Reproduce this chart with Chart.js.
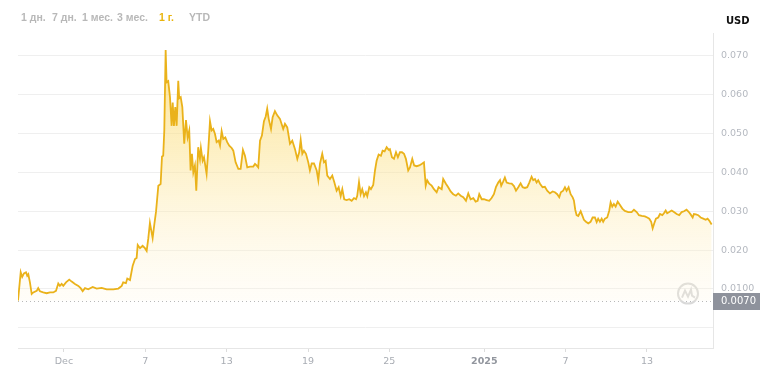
<!DOCTYPE html>
<html>
<head>
<meta charset="utf-8">
<script src="https://cdn.jsdelivr.net/npm/chart.js@4.4.1/dist/chart.umd.min.js"></script>
<style>
  html, body { margin: 0; padding: 0; background: #fff; }
  #wrap { position: relative; width: 775px; height: 380px; }
  #myChart { position: absolute; left: 0; top: 0; }
  .range {
    position: absolute; top: 11px;
    font-family: "Liberation Sans", Arial, sans-serif;
    font-size: 10.5px; font-weight: bold; color: #b8b8b8;
    white-space: nowrap;
  }
  .range.active { color: #e9b40c; }
  #usd {
    position: absolute; left: 726px; top: 15px;
    font-family: "DejaVu Sans", sans-serif; font-size: 10px; font-weight: bold; color: #111;
  }
</style>
</head>
<body>
<div id="wrap">
  <canvas id="myChart" width="775" height="380"></canvas>
  <span class="range" style="left:21px">1 дн.</span>
  <span class="range" style="left:52px">7 дн.</span>
  <span class="range" style="left:82px">1 мес.</span>
  <span class="range" style="left:117px">3 мес.</span>
  <span class="range active" style="left:159px">1 г.</span>
  <span class="range" style="left:189px">YTD</span>
  <span id="usd">USD</span>
</div>
<script>
// days since 1 Dec 2024
const days = [
  -3.39, -3.19, -3.08, -2.95, -2.80, -2.71, -2.63, -2.51, -2.38, -2.26,
  -2.01, -1.90, -1.77, -1.53, -1.28, -1.03, -0.79, -0.59, -0.42, -0.30,
  -0.17, -0.05, 0.15, 0.39, 0.57, 0.81, 1.06, 1.23, 1.38, 1.55,
  1.79, 2.12, 2.41, 2.78, 3.15, 3.64, 4.01, 4.26, 4.37, 4.57,
  4.67, 4.87, 5.07, 5.24, 5.36, 5.44, 5.61, 5.80, 5.97, 6.10,
  6.22, 6.34, 6.54, 6.66, 6.79, 6.96, 7.13, 7.23, 7.32, 7.40,
  7.50, 7.57, 7.69, 7.82, 7.94, 8.02, 8.11, 8.21, 8.31, 8.43,
  8.50, 8.61, 8.73, 8.87, 9.00, 9.12, 9.24, 9.34, 9.44, 9.54,
  9.66, 9.76, 9.90, 10.03, 10.10, 10.23, 10.33, 10.52, 10.64, 10.77,
  10.89, 11.01, 11.14, 11.26, 11.41, 11.51, 11.63, 11.75, 11.90, 12.04,
  12.19, 12.37, 12.49, 12.66, 12.86, 13.03, 13.20, 13.35, 13.52, 13.72,
  13.96, 14.09, 14.21, 14.33, 14.46, 14.60, 14.75, 14.88, 14.99, 15.10,
  15.27, 15.39, 15.56, 15.73, 15.93, 16.17, 16.30, 16.47, 16.67, 16.84,
  17.04, 17.21, 17.35, 17.46, 17.58, 17.70, 17.85, 18.02, 18.14, 18.27,
  18.44, 18.64, 18.76, 18.88, 19.05, 19.18, 19.30, 19.42, 19.62, 19.79,
  19.94, 20.11, 20.26, 20.41, 20.53, 20.67, 20.85, 21.04, 21.22, 21.39,
  21.54, 21.63, 21.76, 21.88, 22.00, 22.13, 22.27, 22.37, 22.52, 22.64,
  22.81, 22.94, 23.06, 23.21, 23.38, 23.50, 23.65, 23.80, 23.95, 24.04,
  24.19, 24.34, 24.49, 24.63, 24.78, 24.93, 25.08, 25.22, 25.39, 25.52,
  25.69, 25.83, 26.01, 26.20, 26.38, 26.55, 26.68, 26.79, 26.94, 27.12,
  27.29, 27.49, 27.63, 27.86, 27.97, 28.17, 28.34, 28.52, 28.71, 28.91,
  29.08, 29.26, 29.45, 29.65, 29.82, 29.99, 30.19, 30.36, 30.51, 30.63,
  30.81, 30.98, 31.17, 31.37, 31.54, 31.71, 31.86, 32.03, 32.16, 32.25,
  32.40, 32.52, 32.65, 32.84, 33.02, 33.19, 33.34, 33.51, 33.68, 33.83,
  34.00, 34.17, 34.32, 34.49, 34.61, 34.74, 34.86, 34.98, 35.11, 35.30,
  35.47, 35.64, 35.84, 36.04, 36.21, 36.38, 36.53, 36.65, 36.82, 36.95,
  37.07, 37.22, 37.37, 37.52, 37.61, 37.71, 37.81, 37.93, 38.11, 38.22,
  38.35, 38.50, 38.67, 38.84, 38.99, 39.16, 39.29, 39.40, 39.53, 39.66,
  39.77, 39.90, 40.07, 40.22, 40.32, 40.44, 40.56, 40.69, 40.84, 41.01,
  41.18, 41.37, 41.62, 41.87, 42.04, 42.24, 42.41, 42.61, 42.85, 43.02,
  43.17, 43.31, 43.42, 43.54, 43.66, 43.83, 43.96, 44.13, 44.25, 44.38,
  44.49, 44.64, 44.82, 44.99, 45.19, 45.38, 45.56, 45.73, 45.92, 46.09,
  46.22, 46.37, 46.46, 46.61, 46.78, 46.96, 47.15, 47.33, 47.47, 47.59, 47.77
];

// price in USD
const prices = [
  0.0070, 0.0143, 0.0131, 0.0140, 0.0143, 0.0134, 0.0138, 0.0117, 0.0087, 0.0091,
  0.0095, 0.0102, 0.0094, 0.0091, 0.0089, 0.0091, 0.0091, 0.0095, 0.0114, 0.0108,
  0.0113, 0.0108, 0.0117, 0.0124, 0.0119, 0.0113, 0.0108, 0.0102, 0.0094, 0.0102,
  0.0099, 0.0105, 0.0101, 0.0103, 0.0099, 0.0099, 0.0101, 0.0108, 0.0117, 0.0115,
  0.0127, 0.0123, 0.0160, 0.0177, 0.0180, 0.0213, 0.0205, 0.0211, 0.0205, 0.0198,
  0.0230, 0.0270, 0.0231, 0.0265, 0.0299, 0.0366, 0.0370, 0.0441, 0.0443, 0.0508,
  0.0715, 0.0632, 0.0635, 0.0594, 0.0520, 0.0580, 0.0520, 0.0568, 0.0520, 0.0636,
  0.0591, 0.0594, 0.0568, 0.0474, 0.0535, 0.0490, 0.0508, 0.0405, 0.0448, 0.0400,
  0.0418, 0.0353, 0.0465, 0.0435, 0.0463, 0.0430, 0.0439, 0.0396, 0.0456, 0.0532,
  0.0508, 0.0512, 0.0499, 0.0478, 0.0482, 0.0469, 0.0506, 0.0486, 0.0490, 0.0478,
  0.0469, 0.0463, 0.0456, 0.0426, 0.0409, 0.0409, 0.0458, 0.0443, 0.0413, 0.0415,
  0.0415, 0.0422, 0.0418, 0.0413, 0.0482, 0.0495, 0.0532, 0.0544, 0.0564, 0.0538,
  0.0512, 0.0542, 0.0558, 0.0547, 0.0538, 0.0512, 0.0525, 0.0516, 0.0474, 0.0482,
  0.0460, 0.0435, 0.0452, 0.0484, 0.0448, 0.0456, 0.0448, 0.0426, 0.0405, 0.0423,
  0.0423, 0.0405, 0.0380, 0.0422, 0.0448, 0.0426, 0.0430, 0.0392, 0.0383, 0.0392,
  0.0375, 0.0353, 0.0362, 0.0339, 0.0357, 0.0331, 0.0329, 0.0331, 0.0327, 0.0334,
  0.0331, 0.0340, 0.0375, 0.0344, 0.0357, 0.0339, 0.0349, 0.0339, 0.0362, 0.0357,
  0.0368, 0.0405, 0.0430, 0.0446, 0.0443, 0.0456, 0.0454, 0.0465, 0.0458, 0.0460,
  0.0439, 0.0435, 0.0452, 0.0439, 0.0452, 0.0452, 0.0448, 0.0435, 0.0405, 0.0413,
  0.0435, 0.0418, 0.0416, 0.0418, 0.0422, 0.0426, 0.0366, 0.0380, 0.0371, 0.0366,
  0.0357, 0.0349, 0.0362, 0.0357, 0.0383, 0.0371, 0.0362, 0.0351, 0.0344, 0.0340,
  0.0346, 0.0340, 0.0336, 0.0327, 0.0346, 0.0331, 0.0334, 0.0325, 0.0327, 0.0344,
  0.0331, 0.0331, 0.0329, 0.0327, 0.0334, 0.0344, 0.0362, 0.0374, 0.0380, 0.0366,
  0.0377, 0.0387, 0.0374, 0.0372, 0.0371, 0.0365, 0.0353, 0.0362, 0.0372, 0.0362,
  0.0360, 0.0362, 0.0374, 0.0389, 0.0380, 0.0383, 0.0374, 0.0380, 0.0371, 0.0362,
  0.0363, 0.0353, 0.0346, 0.0351, 0.0349, 0.0344, 0.0336, 0.0349, 0.0353, 0.0362,
  0.0353, 0.0362, 0.0344, 0.0336, 0.0328, 0.0304, 0.0290, 0.0288, 0.0300, 0.0290,
  0.0278, 0.0273, 0.0269, 0.0273, 0.0284, 0.0284, 0.0272, 0.0281, 0.0273, 0.0281,
  0.0273, 0.0281, 0.0284, 0.0302, 0.0323, 0.0312, 0.0319, 0.0312, 0.0325, 0.0316,
  0.0307, 0.0301, 0.0298, 0.0298, 0.0304, 0.0298, 0.0290, 0.0288, 0.0287, 0.0284,
  0.0281, 0.0273, 0.0256, 0.0269, 0.0281, 0.0284, 0.0293, 0.0290, 0.0295, 0.0302,
  0.0295, 0.0298, 0.0302, 0.0298, 0.0293, 0.0290, 0.0298, 0.0300, 0.0304, 0.0298,
  0.0292, 0.0284, 0.0293, 0.0292, 0.0290, 0.0284, 0.0281, 0.0278, 0.0281, 0.0276, 0.0266
];

// x axis ticks
const xTickDays = [0, 6, 12, 18, 24, 31, 37, 43];
const xTickLabels = ['Dec', '7', '13', '19', '25', '2025', '7', '13'];

// y axis ticks
const yTickValues = [0, 0.01, 0.02, 0.03, 0.04, 0.05, 0.06, 0.07];
const yTickLabels = ['', '0.0100', '0.020', '0.030', '0.040', '0.050', '0.060', '0.070'];

// opening price line
const openPrice = 0.007;
const openLabel = '0.0070';

const lineColor = '#eab21a';

// fill gradient, from chart top down to the open price line
function fillGradient(context) {
    const chart = context.chart;
    const area = chart.chartArea;
    if (!area) return 'rgba(250,220,120,0.4)';
    const yBase = chart.scales.y.getPixelForValue(openPrice);
    const g = chart.ctx.createLinearGradient(0, area.top, 0, yBase);
    g.addColorStop(0, 'rgba(250,212,90,0.7)');
    g.addColorStop(0.45, 'rgba(252,226,140,0.5)');
    g.addColorStop(1, 'rgba(255,246,222,0.2)');
    return g;
}

// dotted open-price line, watermark and the price badge
const extras = {
    id: 'extras',
    beforeDatasetsDraw(chart) {
        const ctx = chart.ctx;
        const a = chart.chartArea;
        const y = chart.scales.y.getPixelForValue(openPrice);
        ctx.save();
        ctx.strokeStyle = '#b8b8b8';
        ctx.lineWidth = 1;
        ctx.setLineDash([1, 3]);
        ctx.beginPath();
        ctx.moveTo(a.left, Math.round(y) + 0.5);
        ctx.lineTo(a.right, Math.round(y) + 0.5);
        ctx.stroke();
        ctx.setLineDash([]);

        // watermark
        const cx = a.right - 25, cy = y - 7;
        ctx.strokeStyle = '#d9d9d9';
        ctx.lineWidth = 2;
        ctx.beginPath();
        ctx.arc(cx, cy, 10, 0, Math.PI * 2);
        ctx.stroke();
        ctx.beginPath();
        ctx.moveTo(cx - 6, cy + 4);
        ctx.lineTo(cx - 3, cy - 3);
        ctx.lineTo(cx, cy + 3);
        ctx.lineTo(cx + 3, cy - 4);
        ctx.lineTo(cx + 4, cy + 2);
        ctx.lineTo(cx + 7, cy + 4);
        ctx.stroke();
        ctx.restore();
    },
    afterDraw(chart) {
        const ctx = chart.ctx;
        const a = chart.chartArea;
        const y = chart.scales.y.getPixelForValue(openPrice);
        ctx.save();
        ctx.fillStyle = '#8e929c';
        ctx.fillRect(a.right, Math.round(y) - 8, 47, 17);
        ctx.fillStyle = '#ffffff';
        ctx.font = '10px "DejaVu Sans"';
        ctx.textBaseline = 'middle';
        ctx.textAlign = 'left';
        ctx.fillText(openLabel, a.right + 8, Math.round(y) + 0.5);
        ctx.restore();
    }
};

const data = {
    datasets: [{
        data: days.map((d, i) => ({ x: d, y: prices[i] })),
        borderColor: lineColor,
        borderWidth: 1.8,
        pointRadius: 0,
        tension: 0,
        fill: { value: openPrice },
        backgroundColor: fillGradient
    }]
};

const scales = {
    x: {
        type: 'linear',
        min: -3.39,
        max: 47.87,
        afterBuildTicks(axis) {
            axis.ticks = xTickDays.map(v => ({ value: v }));
        },
        afterFit(axis) {
            axis.height = 32;
        },
        ticks: {
            autoSkip: false,
            maxRotation: 0,
            padding: 4,
            callback: function (value, index) {
                return xTickLabels[index];
            },
            color: (c) => (c.tick && c.tick.label === '2025') ? '#92969e' : '#a8acb3',
            font: (c) => (c.tick && c.tick.label === '2025')
                ? { family: 'DejaVu Sans', size: 9.5, weight: 'bold' }
                : { family: 'DejaVu Sans', size: 9.5 }
        },
        grid: {
            drawOnChartArea: false,
            drawTicks: true,
            tickLength: 4,
            color: '#dcdcdc'
        },
        border: {
            display: true,
            color: '#e6e6e6'
        }
    },
    y: {
        position: 'right',
        min: -0.0052,
        max: 0.0759,
        afterBuildTicks(axis) {
            axis.ticks = yTickValues.map(v => ({ value: v }));
        },
        afterFit(axis) {
            axis.width = 62;
        },
        ticks: {
            padding: 8,
            callback: function (value, index) {
                return yTickLabels[index];
            },
            color: '#b5b9c0',
            font: { family: 'DejaVu Sans', size: 9.5 }
        },
        grid: {
            drawTicks: false,
            color: '#efefef'
        },
        border: {
            display: true,
            color: '#e6e6e6'
        }
    }
};

const config = {
    type: 'line',
    data,
    options: {
        responsive: false,
        animation: false,
        layout: {
            padding: { left: 18, top: 33, right: 0, bottom: 0 }
        },
        scales: scales,
        plugins: {
            legend: { display: false },
            tooltip: { enabled: false }
        }
    },
    plugins: [extras]
};

const myChart = new Chart(
    document.getElementById('myChart'),
    config
);
</script>
</body>
</html>
